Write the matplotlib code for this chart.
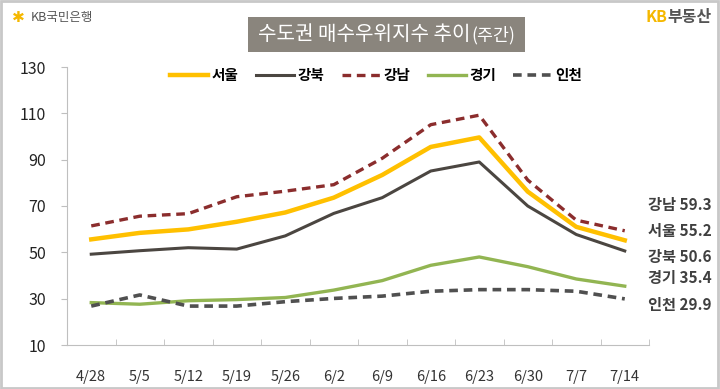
"""Weekly buyer-superiority index chart for the capital region."""

import matplotlib.pyplot as plt
from matplotlib.patches import Rectangle

plt.rcParams["font.family"] = ["Noto Sans CJK KR", "DejaVu Sans"]

weeks = ["4/28", "5/5", "5/12", "5/19", "5/26", "6/2",
         "6/9", "6/16", "6/23", "6/30", "7/7", "7/14"]

seoul = [55.6, 58.4, 59.9, 63.2, 67.2, 73.6, 83.4, 95.5, 99.6, 76.2, 61.0, 55.2]
gangbuk = [49.2, 50.7, 52.0, 51.4, 57.1, 66.8, 73.6, 85.1, 89.0, 70.0, 57.7, 50.6]
gangnam = [61.4, 65.6, 66.7, 74.0, 76.4, 79.2, 90.6, 105.1, 109.2, 81.2, 63.9, 59.3]
gyeonggi = [28.3, 27.6, 29.1, 29.6, 30.5, 33.7, 37.8, 44.4, 48.0, 43.8, 38.5, 35.4]
incheon = [26.8, 31.6, 26.8, 26.8, 28.7, 30.1, 31.1, 33.2, 33.9, 33.9, 33.2, 29.9]

yticks = [10, 30, 50, 70, 90, 110, 130]

fig = plt.figure(figsize=(7.2, 3.89), dpi=100)
ax = fig.add_axes([67 / 720, 44 / 389, 582 / 720, 278 / 389])

x = range(len(weeks))
ax.plot(x, seoul, color="#FFC000", lw=3.2, label="서울", zorder=4)
ax.plot(x, gangbuk, color="#4B4641", lw=2.2, label="강북", zorder=3)
ax.plot(x, gangnam, color="#8B2D2D", lw=2.4, dashes=(2.6, 1.7), label="강남", zorder=3)
ax.plot(x, gyeonggi, color="#92B552", lw=2.4, label="경기", zorder=3)
ax.plot(x, incheon, color="#505050", lw=2.6, dashes=(2.4, 1.6), label="인천", zorder=3)

ax.set_xlim(-0.5, len(weeks) - 0.5)
ax.set_ylim(10, 130)
ax.set_yticks(yticks)
ax.set_xticks(list(x))
ax.set_xticklabels(weeks)
ax.set_xticks([i - 0.5 for i in range(len(weeks) + 1)], minor=True)
ax.tick_params(axis="x", which="major", length=0, pad=18, labelsize=10.5, colors="#333333")
ax.tick_params(axis="x", which="minor", direction="in", length=4, color="#bfbfbf")
ax.tick_params(axis="y", direction="out", length=4, pad=11, labelsize=11.5,
               color="#bfbfbf", labelcolor="#222222")
for side in ("top", "right"):
    ax.spines[side].set_visible(False)
for side in ("left", "bottom"):
    ax.spines[side].set_color("#bfbfbf")

fig.legend(loc="center", bbox_to_anchor=(376 / 720, 1 - 75 / 389), ncol=5,
           frameon=False, handlelength=2.6, columnspacing=1.2, handletextpad=0.25,
           prop={"weight": "bold", "size": 10.5})

# labels for the last week
end_labels = [("강남", 59.3, 205), ("서울", 55.2, 231), ("강북", 50.6, 257),
              ("경기", 35.4, 278), ("인천", 29.9, 305)]
for name, val, ypix in end_labels:
    fig.text(712 / 720, 1 - ypix / 389, f"{name} {val}", ha="right", va="center",
             fontsize=11, fontweight="bold", color="#404040")

# title box
fig.patches.append(Rectangle((248 / 720, 1 - 52 / 389), 277 / 720, 35 / 389,
                             transform=fig.transFigure, facecolor="#8A857D",
                             edgecolor="none", zorder=0))
fig.text(471 / 720, 1 - 34 / 389, "수도권 매수우위지수 추이", ha="right", va="center",
         fontsize=14.5, color="white")
fig.text(471 / 720, 1 - 35 / 389, "(주간)", ha="left", va="center",
         fontsize=12.5, color="white")

# logos
fig.text(12 / 720, 1 - 17 / 389, "✱", ha="left", va="center", fontsize=11,
         color="#F5B800", family=["DejaVu Sans"])
fig.text(31 / 720, 1 - 17 / 389, "KB국민은행", ha="left", va="center",
         fontsize=9, color="#555555")
fig.text(667 / 720, 1 - 17 / 389, "KB", ha="right", va="center", fontsize=11.5,
         color="#F5B800", fontweight="bold")
fig.text(712 / 720, 1 - 17 / 389, "부동산", ha="right", va="center", fontsize=11.5,
         color="#555555", fontweight="bold")

# outer frame
fig.patches.append(Rectangle((0.002, 0.003), 0.995, 0.994, transform=fig.transFigure,
                             facecolor="none", edgecolor="#c8c8c8", lw=2))

fig.savefig("out.png", dpi=100)
